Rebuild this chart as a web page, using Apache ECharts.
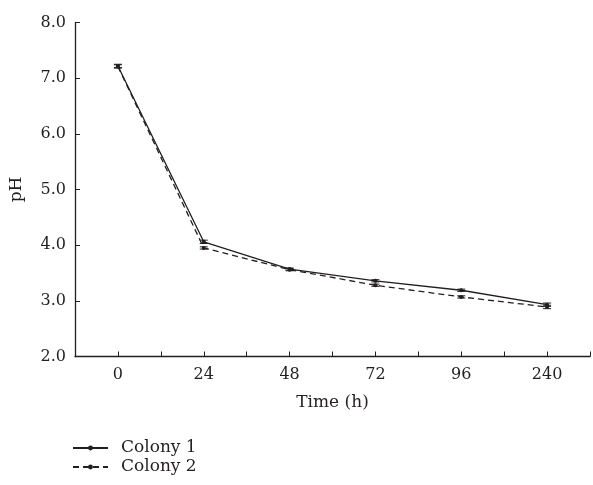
<!DOCTYPE html>
<html>
<head>
<meta charset="utf-8">
<script src="https://cdn.jsdelivr.net/npm/echarts@6/dist/echarts.min.js"></script>
<style>html,body{margin:0;padding:0;background:#fff;}#c{width:593px;height:485px;}</style>
</head>
<body>
<div id="c"></div>
<script>
var categories = ['0', '24', '48', '72', '96', '240'];
var colony1 = [7.22, 4.06, 3.57, 3.36, 3.19, 2.93];
var colony2 = [7.21, 3.95, 3.56, 3.28, 3.07, 2.89];
var err1 = [0.03, 0.03, 0.02, 0.02, 0.02, 0.03];
var err2 = [0.03, 0.02, 0.02, 0.02, 0.02, 0.03];
var yTicks = [2, 3, 4, 5, 6, 7, 8];

var FONT = '"DejaVu Serif", "Liberation Serif", serif';
var INK = '#231f20';

function pts(vals) { return vals.map(function (v, i) { return [i, v]; }); }
function errData(vals, errs) { return vals.map(function (v, i) { return [i, v - errs[i], v + errs[i]]; }); }
function errRender(params, api) {
  var x = api.value(0);
  var lo = api.coord([x, api.value(1)]);
  var hi = api.coord([x, api.value(2)]);
  var w = 4;
  var st = { stroke: INK, lineWidth: 1 };
  return { type: 'group', children: [
    { type: 'line', shape: { x1: lo[0], y1: lo[1], x2: hi[0], y2: hi[1] }, style: st },
    { type: 'line', shape: { x1: lo[0] - w, y1: lo[1], x2: lo[0] + w, y2: lo[1] }, style: st },
    { type: 'line', shape: { x1: hi[0] - w, y1: hi[1], x2: hi[0] + w, y2: hi[1] }, style: st }
  ]};
}

var chart = echarts.init(document.getElementById('c'), null, { renderer: 'canvas' });
chart.setOption({
  animation: false,
  backgroundColor: '#fff',
  textStyle: { fontFamily: FONT },
  grid: { left: 72.5, right: -7, top: 22.5, bottom: 128.5 },
  legend: {
    orient: 'vertical', left: 72, top: 439.5, padding: 0,
    itemWidth: 35, itemHeight: 6, itemGap: 2,
    data: ['Colony 1', 'Colony 2'],
    textStyle: { fontFamily: FONT, fontSize: 17, color: INK, padding: [0, 0, 0, 8] }
  },
  xAxis: {
    type: 'value', min: -0.5, max: 5.5, interval: 0.5,
    name: 'Time (h)', nameLocation: 'middle', nameGap: 38,
    nameTextStyle: { fontFamily: FONT, fontSize: 17, color: INK },
    axisLine: { show: true, onZero: false, lineStyle: { color: INK, width: 1.3 } },
    axisTick: { show: true, inside: true, length: 5, lineStyle: { color: INK } },
    splitLine: { show: false },
    axisLabel: {
      fontFamily: FONT, fontSize: 16, color: INK, margin: 10,
      formatter: function (v) { return Number.isInteger(v) && categories[v] !== undefined ? categories[v] : ''; }
    }
  },
  yAxis: {
    type: 'value', min: yTicks[0], max: yTicks[yTicks.length - 1], interval: 1,
    name: 'pH', nameLocation: 'middle', nameGap: 50, nameRotate: 90,
    nameTextStyle: { fontFamily: FONT, fontSize: 17, color: INK },
    axisLine: { show: true, onZero: false, lineStyle: { color: INK, width: 1.3 } },
    axisTick: { show: true, inside: true, length: 5, lineStyle: { color: INK } },
    splitLine: { show: false },
    axisLabel: { fontFamily: FONT, fontSize: 16, color: INK, margin: 9,
      formatter: function (v) { return v.toFixed(1); } }
  },
  series: [
    { name: 'Colony 1', type: 'line', data: pts(colony1), symbol: 'circle', symbolSize: 4,
      itemStyle: { color: INK }, lineStyle: { color: INK, width: 1.3, type: 'solid' }, z: 3 },
    { name: 'Colony 2', type: 'line', data: pts(colony2), symbol: 'circle', symbolSize: 4,
      itemStyle: { color: INK }, lineStyle: { color: INK, width: 1.3, type: [6, 4] }, z: 3 },
    { name: 'err1', type: 'custom', data: errData(colony1, err1), renderItem: errRender, z: 4, silent: true },
    { name: 'err2', type: 'custom', data: errData(colony2, err2), renderItem: errRender, z: 4, silent: true }
  ]
});
</script>
</body>
</html>
